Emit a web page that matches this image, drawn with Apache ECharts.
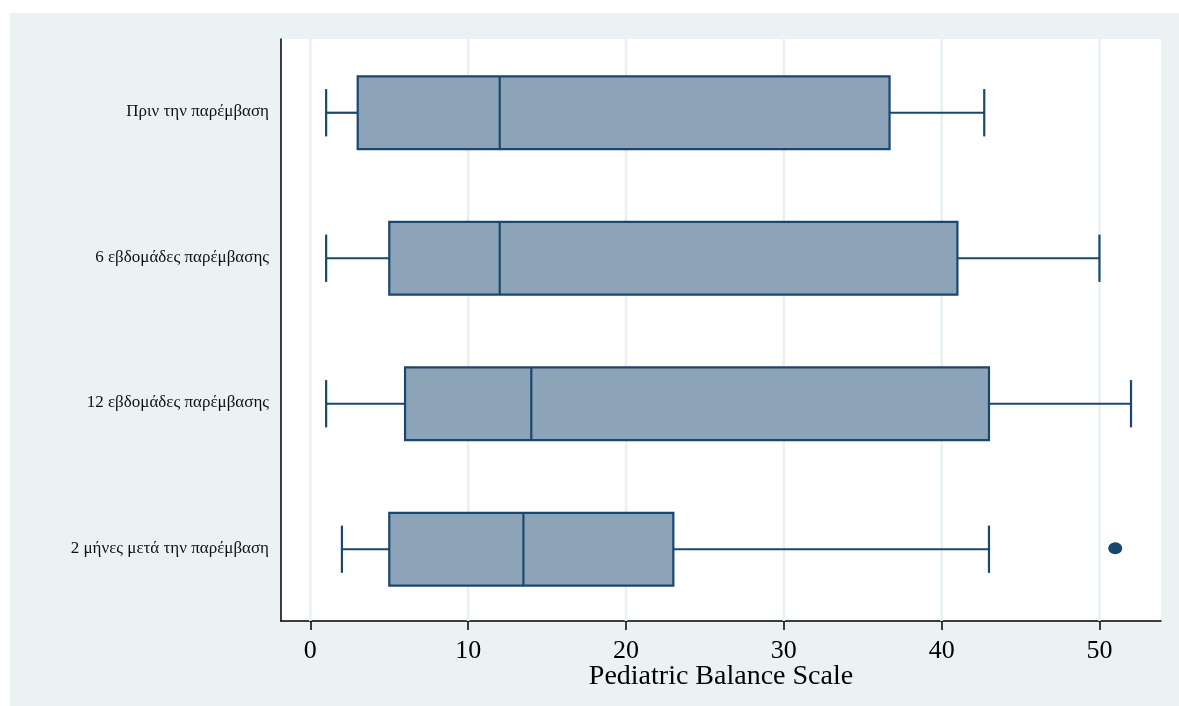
<!DOCTYPE html>
<html>
<head>
<meta charset="utf-8">
<script src="https://cdn.jsdelivr.net/npm/echarts@6/dist/echarts.min.js"></script>
<style>
html,body{margin:0;padding:0;background:#fff;}
#chart{width:1179px;height:706px;}
</style>
</head>
<body>
<div id="chart"></div>
<script>
var categories = ['Πριν την παρέμβαση', '6 εβδομάδες παρέμβασης', '12 εβδομάδες παρέμβασης', '2 μήνες μετά την παρέμβαση'];
var whiskerLow = [1, 1, 1, 2];
var q1 = [3, 5, 6, 5];
var median = [12, 12, 14, 13.5];
var q3 = [36.7, 41, 43, 23];
var whiskerHigh = [42.7, 50, 52, 43];
var outliers = [[51, 3]];
var xTicks = [0, 10, 20, 30, 40, 50];

var boxData = categories.map(function (c, i) {
  return [i, whiskerLow[i], q1[i], median[i], q3[i], whiskerHigh[i]];
});
var gridData = xTicks.map(function (t) { return [t, 0]; });

var NAVY = '#1A476F';
var FILL = '#8DA3B8';

function renderBox(params, api) {
  var ci = api.value(0);
  var lo = api.coord([api.value(1), ci]);
  var b1 = api.coord([api.value(2), ci]);
  var md = api.coord([api.value(3), ci]);
  var b3 = api.coord([api.value(4), ci]);
  var hi = api.coord([api.value(5), ci]);
  var band = api.size([0, 1])[1];
  var y = lo[1] + 1;
  var bh = band * 0.5;
  var ch = band * 0.325;
  var ls = {stroke: NAVY, lineWidth: 2.2};
  return {
    type: 'group',
    children: [
      {type: 'line', shape: {x1: lo[0], y1: y, x2: b1[0], y2: y}, style: ls},
      {type: 'line', shape: {x1: b3[0], y1: y, x2: hi[0], y2: y}, style: ls},
      {type: 'line', shape: {x1: lo[0], y1: y - ch / 2, x2: lo[0], y2: y + ch / 2}, style: ls},
      {type: 'line', shape: {x1: hi[0], y1: y - ch / 2, x2: hi[0], y2: y + ch / 2}, style: ls},
      {type: 'rect', shape: {x: b1[0], y: y - bh / 2, width: b3[0] - b1[0], height: bh}, style: {fill: FILL, stroke: NAVY, lineWidth: 2.2}},
      {type: 'line', shape: {x1: md[0], y1: y - bh / 2, x2: md[0], y2: y + bh / 2}, style: ls}
    ]
  };
}

function renderGrid(params, api) {
  var p = api.coord([api.value(0), 0]);
  var cs = params.coordSys;
  return {
    type: 'line',
    shape: {x1: p[0], y1: cs.y, x2: p[0], y2: cs.y + cs.height},
    style: {stroke: '#E8F0F2', lineWidth: 2.5}
  };
}

var chart = echarts.init(document.getElementById('chart'), null, {renderer: 'canvas'});
chart.setOption({
  backgroundColor: '#ffffff',
  animation: false,
  graphic: [{
    type: 'rect', z: -10, silent: true,
    shape: {x: 10, y: 13, width: 1169, height: 693},
    style: {fill: '#EAF2F3'}
  }],
  grid: {
    left: 281, right: 18, top: 39, bottom: 85,
    show: true, backgroundColor: '#ffffff', borderWidth: 0
  },
  xAxis: {
    type: 'value',
    min: -1.86, max: 53.9,
    axisLine: {show: true, onZero: false, lineStyle: {color: '#000', width: 1.5}},
    axisTick: {show: true, length: 9, customValues: xTicks, lineStyle: {color: '#000', width: 1.5}},
    axisLabel: {show: true, customValues: xTicks, margin: 17, fontFamily: 'Liberation Serif', fontSize: 26, color: '#000'},
    splitLine: {show: false},
    name: 'Pediatric Balance Scale',
    nameLocation: 'middle',
    nameGap: 42,
    nameMoveOverlap: false,
    nameTextStyle: {fontFamily: 'Liberation Serif', fontSize: 28, color: '#000'}
  },
  yAxis: {
    type: 'category',
    data: categories,
    inverse: true,
    axisLine: {show: true, onZero: false, lineStyle: {color: '#000', width: 1.5}},
    axisTick: {show: false},
    axisLabel: {margin: 12, fontFamily: 'Liberation Serif', fontSize: 17, color: '#111'},
    splitLine: {show: false}
  },
  series: [
    {
      type: 'custom', z: 1, silent: true,
      renderItem: renderGrid,
      encode: {x: 0, y: 1},
      data: gridData
    },
    {
      type: 'custom', z: 3,
      renderItem: renderBox,
      encode: {x: [1, 2, 3, 4, 5], y: 0},
      data: boxData
    },
    {
      type: 'scatter', z: 4,
      symbol: 'circle', symbolSize: [14, 12],
      itemStyle: {color: NAVY, opacity: 1},
      data: outliers
    }
  ]
});
</script>
</body>
</html>
